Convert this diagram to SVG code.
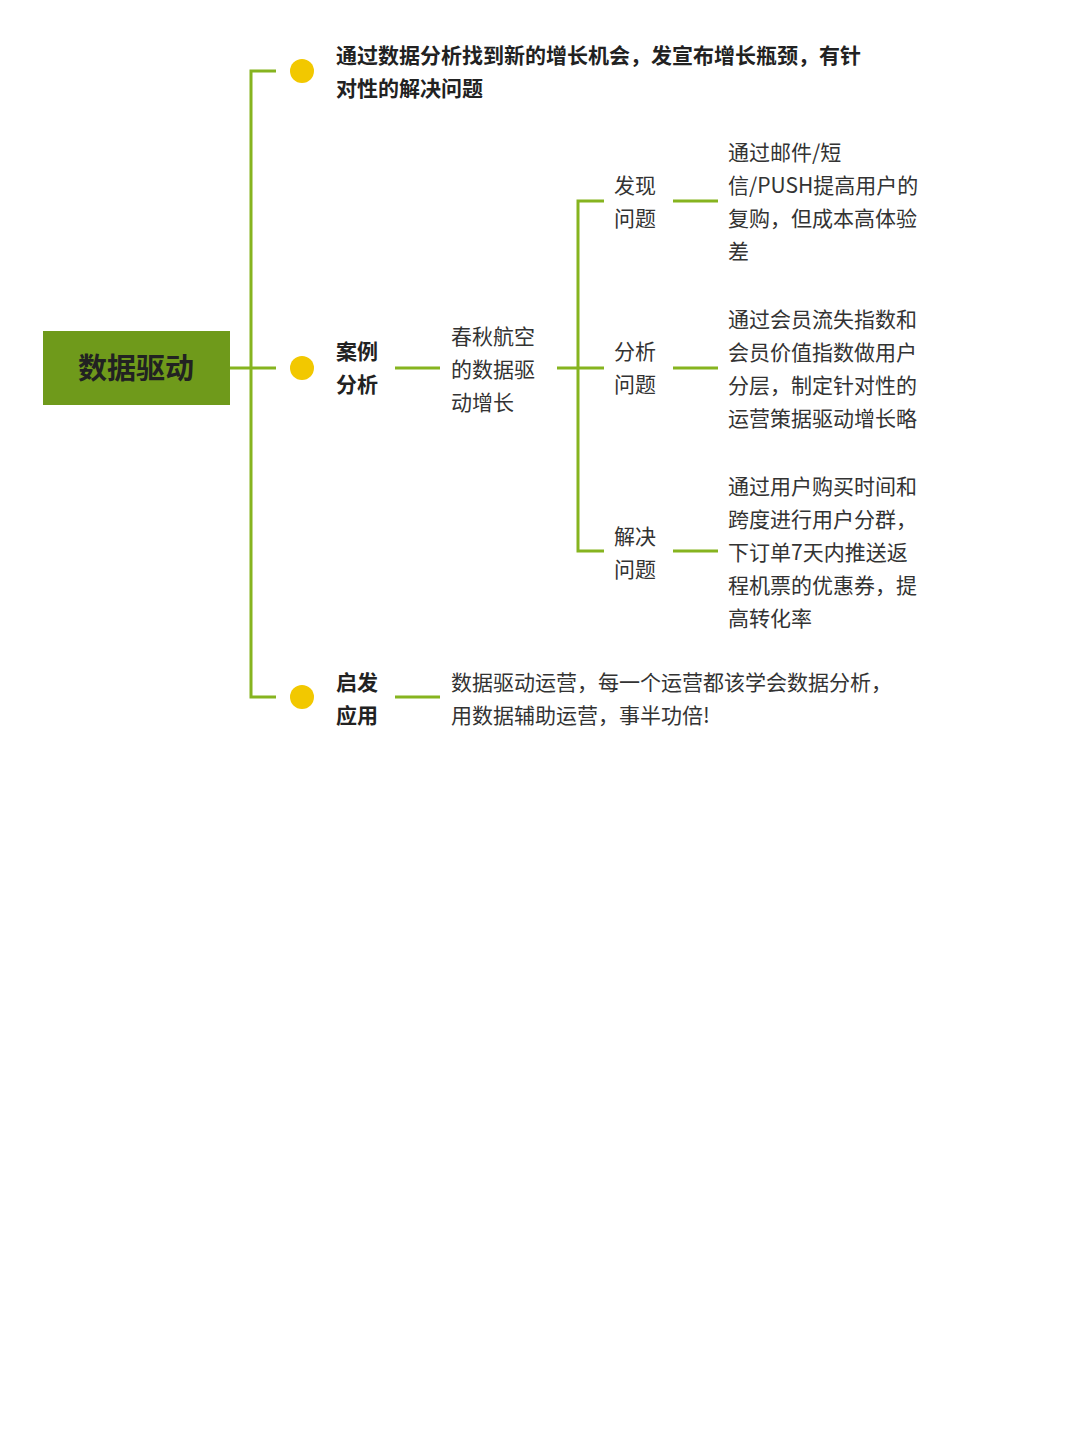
<svg xmlns="http://www.w3.org/2000/svg" width="1080" height="1440" viewBox="0 0 1080 1440">
<style>
text{font-family:"Noto Sans CJK SC","Noto Sans",sans-serif;font-size:21px;fill:#333}
.b{font-weight:bold;fill:#222}
.ln{stroke:#86b41f;stroke-width:3;fill:none}
.dot{fill:#f2c800}
</style>
<rect width="1080" height="1440" fill="#fff"/>
<g id="connectors">
<path class="ln" d="M230 368H251M276 71H251V697H276M251 368H276"/>
<path class="ln" d="M395 368H440M557 368H578M604 201H578V551H604M578 368H604"/>
<path class="ln" d="M673 201H718M673 368H718M673 551H718M395 697H440"/>
</g>
<g id="root"><rect x="43" y="331" width="187" height="74" fill="#6f9a1b"/><text x="136" y="379" text-anchor="middle" class="b" style="font-size:29px">数据驱动</text></g>
<g id="n1"><circle class="dot" cx="302" cy="71" r="12"/><text class="b" x="336" y="63">通过数据分析找到新的增长机会，发宣布增长瓶颈，有针</text><text class="b" x="336" y="96">对性的解决问题</text></g>
<g id="n2"><circle class="dot" cx="302" cy="368" r="12"/><text class="b" x="336" y="359">案例</text><text class="b" x="336" y="392">分析</text></g>
<g id="n3"><text x="451" y="344">春秋航空</text><text x="451" y="377">的数据驱</text><text x="451" y="410">动增长</text></g>
<g id="n4"><text x="614" y="193">发现</text><text x="614" y="226">问题</text></g>
<g id="n5"><text x="728" y="160">通过邮件/短</text><text x="728" y="193">信/PUSH提高用户的</text><text x="728" y="226">复购，但成本高体验</text><text x="728" y="259">差</text></g>
<g id="n6"><text x="614" y="359">分析</text><text x="614" y="392">问题</text></g>
<g id="n7"><text x="728" y="327">通过会员流失指数和</text><text x="728" y="360">会员价值指数做用户</text><text x="728" y="393">分层，制定针对性的</text><text x="728" y="426">运营策据驱动增长略</text></g>
<g id="n8"><text x="614" y="544">解决</text><text x="614" y="577">问题</text></g>
<g id="n9"><text x="728" y="494">通过用户购买时间和</text><text x="728" y="527">跨度进行用户分群，</text><text x="728" y="560">下订单7天内推送返</text><text x="728" y="593">程机票的优惠券，提</text><text x="728" y="626">高转化率</text></g>
<g id="n10"><circle class="dot" cx="302" cy="697" r="12"/><text class="b" x="336" y="690">启发</text><text class="b" x="336" y="723">应用</text></g>
<g id="n11"><text x="451" y="690">数据驱动运营，每一个运营都该学会数据分析，</text><text x="451" y="723">用数据辅助运营，事半功倍!</text></g>
</svg>
